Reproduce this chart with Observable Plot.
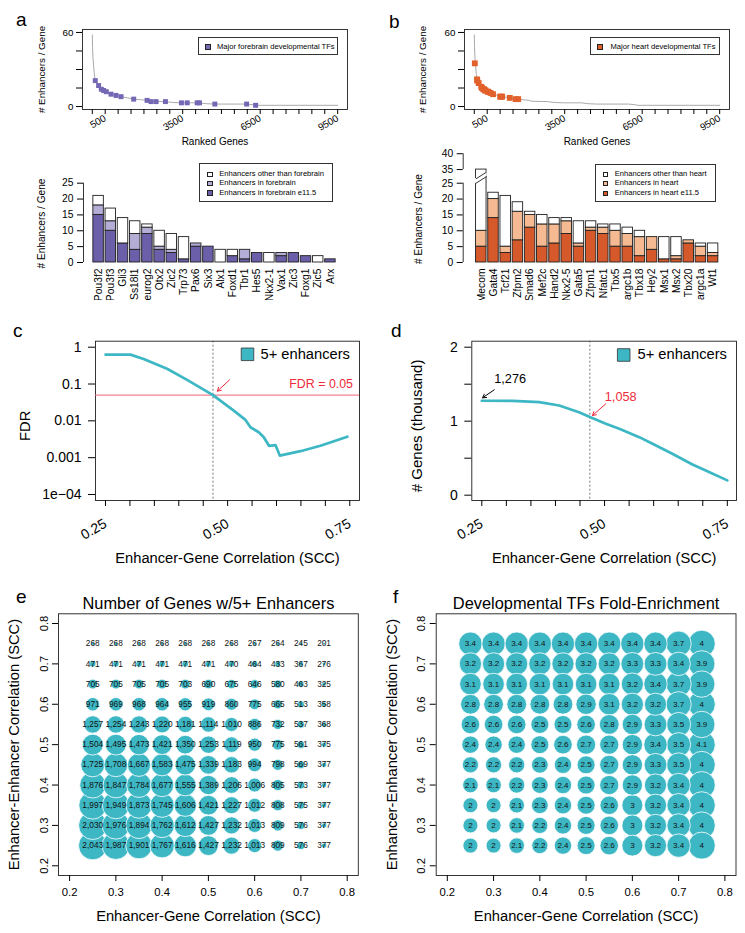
<!DOCTYPE html>
<html>
<head>
<meta charset="utf-8">
<script src="https://cdn.jsdelivr.net/npm/d3@7"></script>
<script src="https://cdn.jsdelivr.net/npm/@observablehq/plot@0.6"></script>
<style>
html,body{margin:0;padding:0;background:#fff;}
body{width:745px;height:933px;overflow:hidden;position:relative;font-family:"Liberation Sans",Arial,Helvetica,sans-serif;color:#000;}
.letter{position:absolute;font-size:19px;line-height:19px;}
.legend{position:absolute;border:1px solid #333;box-sizing:border-box;background:#fff;}
.legend .sq{position:absolute;width:5.5px;height:5.5px;border:0.8px solid #222;box-sizing:border-box;}
.legend .lt{position:absolute;font-size:7.6px;line-height:10px;white-space:nowrap;}
</style>
</head>
<body>
<script>
// ---------------- data ----------------
// ranked genes curve (panels a, b top)
const curveRank = [1, 10, 25, 50, 80, 116, 170, 244, 300, 349, 438, 543, 630, 725, 919, 1113, 1375, 1603, 1900, 2121, 2200, 2832, 3100, 3452, 4150, 4400, 4745, 5974, 6250, 6323, 9500];
const curveEnh  = [58, 48, 40, 33, 26, 21, 19, 17, 15, 14, 13, 12, 11, 10, 9, 8, 7, 6, 5.5, 5, 4.3, 4, 3.3, 3, 3, 2.3, 2, 2, 1.4, 1, 1];
const forebrainRank = [116, 244, 349, 438, 543, 725, 919, 1113, 1603, 2121, 2277, 2471, 2832, 3452, 3674, 4061, 4150, 4745, 5974, 6323];
const forebrainEnh  = [21, 17, 14, 13, 12, 10, 9, 8, 6, 5, 4, 4, 4, 3, 3, 3, 3, 2, 2, 1];
const heartRank = [20, 105, 116, 170, 270, 300, 349, 380, 420, 438, 520, 543, 630, 725, 1000, 1040, 1080, 1375, 1603, 1700];
const heartEnh  = [35, 22, 21, 19, 16, 15, 14, 14, 13, 13, 12, 12, 11, 10, 8, 8, 8, 7, 6, 6];
const rankTicks = d3.range(0, 9501, 500);
const rankTickLabels = [500, 3500, 6500, 9500];
const enhTicks = [0, 15, 30, 45, 60];
const enhTickLabels = [0, 60];

// stacked bars (panels a, b bottom)
const forebrainGenes = ["Pou3f2","Pou3f3","Gli3","Ss18l1","Neurog2","Otx2","Zic2","Trp73","Pax6","Six3","Alx1","Foxd1","Tbr1","Hes5","Nkx2-1","Vax1","Zic3","Foxg1","Zic5","Arx"];
const forebrainE115  = [15,10,6,4,9,4,3,1,5,5,0,2,1,3,0,2,3,2,0,1];
const forebrainIn    = [3,3,0,5,2,1,1,0,1,0,0,0,3,0,0,1,0,0,0,0];
const forebrainOther = [3,4,8,4,1,5,5,7,0,0,4,2,0,0,3,0,0,0,2,0];
const heartGenes = ["Mecom","Gata4","Tcf21","Zfpm2","Smad6","Mef2c","Hand2","Nkx2-5","Gata5","Zfpm1","Nfatc1","Tbx5","Ppargc1b","Tbx18","Hey2","Msx1","Msx2","Tbx20","Ppargc1a","Wt1"];
const heartE115  = [5,14,3,7,11,5,6,9,5,10,9,5,5,2,4,1,1,6,2,2];
const heartIn    = [5,6,2,9,4,7,6,4,1,1,2,5,4,6,4,0,1,1,3,1];
const heartOther = [25,2,16,3,1,3,2,1,7,2,1,2,2,2,0,7,6,0,1,3];
const forebrainBarTicks = [0,5,10,15,20,25];
const heartBarTicks = [0,5,10,15,20,25,35,40];
const heartBreakShift = 5.7;   // axis break: values above 25 are drawn shifted down

// panel c: FDR vs SCC
const fdrScc = [0.25, 0.301, 0.328, 0.376, 0.417, 0.47, 0.5125, 0.5365, 0.5467, 0.5637, 0.574, 0.5846, 0.5979, 0.6067, 0.649, 0.690, 0.745];
const fdrVal = [0.63, 0.63, 0.48, 0.26, 0.13, 0.05, 0.019, 0.0106, 0.0067, 0.0049, 0.0036, 0.0021, 0.0022, 0.00114, 0.0015, 0.0021, 0.0037];
const fdrTicks = [1, 0.1, 0.01, 0.001, 0.0001];
const fdrTickLabels = ["1", "0.1", "0.01", "0.001", "1e\u221204"];
const fdrThreshold = 0.05;
const sccCutoff = 0.47;
const fdrArrow = [{x1: 0.504, y1: 0.13, x2: 0.479, y2: 0.064}];

// panel d: number of genes vs SCC
const genesScc = [0.25, 0.3125, 0.367, 0.4076, 0.448, 0.47, 0.5026, 0.53, 0.5706, 0.5977, 0.638, 0.679, 0.706, 0.75];
const genesK   = [1.276, 1.275, 1.257, 1.212, 1.122, 1.058, 0.965, 0.897, 0.784, 0.694, 0.559, 0.415, 0.334, 0.2];
const genesTicks = [0, 0.5, 1, 1.5, 2];
const genesAnnot = [
  {label: "1,276", color: "#000", tx: 0.2753, ty: 1.57, x1: 0.2753, y1: 1.424, x2: 0.2515, y2: 1.316},
  {label: "1,058", color: "#ee2a3c", tx: 0.5005, ty: 1.327, x1: 0.5025, y1: 1.235, x2: 0.4754, y2: 1.077}
];
const sccTicksCD = [0.25,0.30,0.35,0.40,0.45,0.50,0.55,0.60,0.65,0.70,0.75];
const sccLabelsCD = [0.25, 0.5, 0.75];

// panels e, f: grids (rows: enhancer-enhancer SCC, cols: enhancer-gene SCC)
const egCols = [0.25,0.3,0.35,0.4,0.45,0.5,0.55,0.6,0.65,0.7,0.75];
const eeRows = [0.75,0.7,0.65,0.6,0.55,0.5,0.45,0.4,0.35,0.3,0.25];
const geneCounts = [
  [268,268,268,268,268,268,268,267,264,245,201],
  [471,471,471,471,471,471,470,464,433,367,276],
  [705,705,705,705,703,690,675,646,580,463,325],
  [971,969,968,964,955,919,860,775,665,513,358],
  [1257,1254,1243,1220,1181,1114,1010,886,732,537,368],
  [1504,1495,1473,1421,1350,1253,1119,950,775,561,375],
  [1725,1708,1667,1583,1475,1339,1183,994,798,569,377],
  [1876,1847,1784,1677,1555,1389,1206,1006,805,573,377],
  [1997,1949,1873,1745,1606,1421,1227,1012,808,575,377],
  [2030,1976,1894,1762,1612,1427,1232,1013,809,576,377],
  [2043,1987,1901,1767,1616,1427,1232,1013,809,576,377]
];
const foldEnrichment = [
  [3.4,3.4,3.4,3.4,3.4,3.4,3.4,3.4,3.4,3.7,4],
  [3.2,3.2,3.2,3.2,3.2,3.2,3.2,3.3,3.3,3.4,3.9],
  [3.1,3.1,3.1,3.1,3.1,3.1,3.1,3.2,3.4,3.7,3.9],
  [2.8,2.8,2.8,2.8,2.8,2.9,3.1,3.2,3.2,3.7,4],
  [2.6,2.6,2.6,2.5,2.5,2.6,2.8,2.9,3.3,3.5,3.9],
  [2.4,2.4,2.4,2.5,2.6,2.7,2.7,2.9,3.4,3.5,4.1],
  [2.2,2.2,2.2,2.3,2.4,2.5,2.7,2.9,3.3,3.5,4],
  [2.1,2.1,2.2,2.3,2.4,2.5,2.7,2.9,3.2,3.4,4],
  [2,2,2.1,2.3,2.4,2.5,2.6,3,3.2,3.4,4],
  [2,2,2.1,2.2,2.4,2.5,2.6,3,3.2,3.4,4],
  [2,2,2.1,2.2,2.4,2.5,2.6,3,3.2,3.4,4]
];
const sccTicksEF = [0.2,0.3,0.4,0.5,0.6,0.7,0.8];

// ---------------- styling ----------------
const FONT = '"Liberation Sans", Arial, Helvetica, sans-serif';
const TEAL = "#3db7c4";
const PURPLE = ["#6a5fa8", "#b4aed6", "#ffffff"];
const ORANGE = ["#d5592b", "#f5ba91", "#ffffff"];
const PURPLE_PT = "#7468b4";
const ORANGE_PT = "#e2602b";
const RED = "#ee2a3c";
const RED_LINE = "#f36277";
const INK = "#1f1f1f";

const st = fs => ({fontFamily: FONT, fontSize: fs + "px", background: "transparent", overflow: "hidden", color: "#000"});
function place(node, left, top) {
  node.style.position = "absolute";
  node.style.left = left + "px";
  node.style.top = top + "px";
  document.body.appendChild(node);
}
function letter(ch, left, baseline) {
  const d = document.createElement("div");
  d.className = "letter"; d.textContent = ch;
  d.style.left = left + "px"; d.style.top = (baseline - 16.1) + "px";
  document.body.appendChild(d);
}
function legendBox(left, top, w, h, items) {
  const box = document.createElement("div");
  box.className = "legend";
  Object.assign(box.style, {left: left + "px", top: top + "px", width: w + "px", height: h + "px"});
  items.forEach(it => {
    const sq = document.createElement("span");
    sq.className = "sq";
    sq.style.left = it.sx + "px"; sq.style.top = (it.cy - 2.75) + "px"; sq.style.background = it.color;
    const tx = document.createElement("span");
    tx.className = "lt";
    tx.style.left = it.tx + "px"; tx.style.top = (it.cy - 5.3) + "px";
    tx.textContent = it.label;
    box.appendChild(sq); box.appendChild(tx);
  });
  document.body.appendChild(box);
}
// axis-title helpers (explicit anchors so frameAnchor does not shift them)
const yTitle = (label, dx, dy, fs) => Plot.text([label], {text: d => d, frameAnchor: "left", rotate: -90, textAnchor: "middle", lineAnchor: "middle", dx, dy, fontSize: fs});
const xTitle = (label, anchor, dy, fs) => Plot.text([label], {text: d => d, frameAnchor: anchor, textAnchor: "middle", lineAnchor: "middle", dy, fontSize: fs});

// ---------------- panels a/b top: ranked genes ----------------
const curve = curveRank.map((r, i) => ({rank: r, enh: curveEnh[i]}));
function rankedPanel(pts, color, o) {
  return Plot.plot({
    width: o.width, height: 150, marginLeft: o.ml, marginRight: o.mr, marginTop: 29, marginBottom: 41,
    style: st(9.8),
    x: {domain: [-379, 9880], label: null},
    y: {domain: [-2.4, 62.4], label: null},
    marks: [
      Plot.frame({stroke: INK, strokeWidth: 0.9}),
      Plot.line(curve, {x: "rank", y: "enh", stroke: "#a9a9a9", strokeWidth: 1}),
      Plot.dot(pts, {x: "rank", y: "enh", symbol: "square", r: o.r, fill: color}),
      Plot.axisY({ticks: enhTicks, tickFormat: d => enhTickLabels.includes(d) ? String(d) : "", tickSize: 6, tickPadding: 3, fontSize: 9.8, label: null}),
      Plot.axisX({ticks: rankTicks, tickFormat: d => rankTickLabels.includes(d) ? String(d) : "", tickRotate: -30, tickSize: 5, tickPadding: 3, fontSize: 9.8, label: null}),
      xTitle("Ranked Genes", "bottom", 32, 10),
      yTitle("# Enhancers / Gene", o.ylab, 0, 9.8)
    ]
  });
}
place(rankedPanel(forebrainRank.map((r, i) => ({rank: r, enh: forebrainEnh[i]})), PURPLE_PT, {width: 372, ml: 82, mr: 25, r: 2.8, ylab: -41}), 0, 0);
place(rankedPanel(heartRank.map((r, i) => ({rank: r, enh: heartEnh[i]})), ORANGE_PT, {width: 373, ml: 92, mr: 16, r: 3.3, ylab: -42}), 372, 0);

// ---------------- panels a/b bottom: stacked bars ----------------
function barPanel(c) {
  const segs = [];
  c.genes.forEach((g, i) => {
    const a = c.dark[i], b = c.light[i], w = c.white[i];
    [[0, a, c.colors[0]], [a, a + b, c.colors[1]], [a + b, a + b + w, c.colors[2]]].forEach(([y1, y2, fill]) => {
      if (y2 > y1) segs.push({i, y1: c.disp(y1), y2: c.disp(y2), fill});
    });
  });
  const step = (c.width - c.mr - c.barStart) / c.genes.length;
  const xDomain = [-0.5 - (c.barStart - c.ml) / step, c.genes.length - 0.5];
  const tickMap = new Map(c.ticks.map(t => [c.disp(t), String(t)]));
  return Plot.plot({
    width: c.width, height: c.height, marginLeft: c.ml, marginRight: c.mr, marginTop: c.mt, marginBottom: 38,
    style: st(10.3),
    x: {domain: xDomain, label: null, axis: null},
    y: {domain: c.yDomain, label: null},
    marks: [
      Plot.rectY(segs, {x1: d => d.i - 0.43, x2: d => d.i + 0.43, y1: "y1", y2: "y2", fill: "fill", stroke: INK, strokeWidth: 0.9}),
      ...(c.extra || []),
      Plot.ruleX(c.axisSegments, {x: () => xDomain[0], y1: "y1", y2: "y2", stroke: INK, strokeWidth: 0.9}),
      Plot.axisY({ticks: c.ticks.map(c.disp), tickFormat: d => tickMap.get(d), tickSize: 6, tickPadding: 4, fontSize: 10.3, label: null}),
      Plot.text(c.genes.map((g, i) => ({g, i})), {x: "i", y: () => 0, text: "g", rotate: -90, textAnchor: "end", lineAnchor: "middle", dy: 6, fontSize: 10.3}),
      yTitle("# Enhancers / Gene", c.ylab, c.ylabDy, 10.1)
    ]
  });
}
const ident = v => v;
place(barPanel({
  genes: forebrainGenes, dark: forebrainE115, light: forebrainIn, white: forebrainOther, colors: PURPLE,
  disp: ident, ticks: forebrainBarTicks, yDomain: [0, 29], width: 372, height: 150, ml: 83, mr: 36, mt: 20, barStart: 92,
  axisSegments: [{y1: 0, y2: 25}], ylab: -42, ylabDy: 7
}), 0, 150);

const heartDisp = v => v > 25 ? v - heartBreakShift : v;
place(barPanel({
  genes: heartGenes, dark: heartE115, light: heartIn, white: heartOther, colors: ORANGE,
  disp: heartDisp, ticks: heartBarTicks, yDomain: [0, 35], width: 373, height: 160, ml: 90.7, mr: 26.3, mt: 11, barStart: 102.7,
  axisSegments: [{y1: 0, y2: 25}, {y1: heartDisp(35), y2: heartDisp(40)}], ylab: -44, ylabDy: 12,
  extra: [
    Plot.areaY([{x: -0.48, lo: 24.85, hi: 26.3}, {x: 0.48, lo: 27.2, hi: 28.65}], {x: "x", y1: "lo", y2: "hi", fill: "#fff"}),
    Plot.link([{x1: -0.43, y1: 25.0, x2: 0.43, y2: 27.1}, {x1: -0.43, y1: 26.4, x2: 0.43, y2: 28.5}], {x1: "x1", y1: "y1", x2: "x2", y2: "y2", stroke: INK, strokeWidth: 0.9})
  ]
}), 372, 140);

// ---------------- panel c ----------------
const fdrData = fdrScc.map((x, i) => ({x, y: fdrVal[i]}));
const sccAxisCD = () => Plot.axisX({ticks: sccTicksCD, tickFormat: d => sccLabelsCD.some(v => Math.abs(v - d) < 1e-9) ? d.toFixed(2) : "", tickRotate: -30, tickSize: 6, tickPadding: 16, fontSize: 14, label: null});
place(Plot.plot({
  width: 372, height: 270, marginLeft: 95, marginRight: 13, marginTop: 40.7, marginBottom: 70,
  style: st(14),
  x: {domain: [0.2295, 0.7699], label: null},
  y: {type: "log", domain: [6.87e-5, 1.456], label: null},
  marks: [
    Plot.frame({stroke: INK, strokeWidth: 0.9}),
    Plot.ruleY([fdrThreshold], {stroke: RED_LINE, strokeWidth: 1}),
    Plot.ruleX([sccCutoff], {stroke: "#555", strokeWidth: 0.8, strokeDasharray: "2,2"}),
    Plot.line(fdrData, {x: "x", y: "y", stroke: TEAL, strokeWidth: 2.7}),
    Plot.arrow(fdrArrow, {x1: "x1", y1: "y1", x2: "x2", y2: "y2", stroke: RED, strokeWidth: 1, headLength: 6}),
    Plot.text([fdrThreshold], {y: d => d, text: () => "FDR = 0.05", frameAnchor: "right", textAnchor: "end", lineAnchor: "middle", dx: -6.5, dy: -11, fill: RED, fontSize: 12.4}),
    Plot.dot([0], {frameAnchor: "top-right", dx: -112, dy: 13.1, symbol: "square", r: 7.1, fill: TEAL, stroke: "#333", strokeWidth: 0.8}),
    Plot.text(["5+ enhancers"], {text: d => d, frameAnchor: "top-right", dx: -99, dy: 12.8, textAnchor: "start", lineAnchor: "middle", fontSize: 14.7}),
    Plot.axisY({ticks: fdrTicks, tickFormat: (d) => fdrTickLabels[fdrTicks.indexOf(d)], tickSize: 7, tickPadding: 7, fontSize: 14, label: null}),
    sccAxisCD(),
    xTitle("Enhancer-Gene Correlation (SCC)", "bottom", 58, 14.7),
    yTitle("FDR", -70, 5, 14.7)
  ]
}), 0, 300);

// ---------------- panel d ----------------
const genesData = genesScc.map((x, i) => ({x, y: genesK[i]}));
place(Plot.plot({
  width: 373, height: 270, marginLeft: 99.3, marginRight: 9, marginTop: 40.7, marginBottom: 70,
  style: st(14),
  x: {domain: [0.2296, 0.7687], label: null},
  y: {domain: [-0.072, 2.081], label: null},
  marks: [
    Plot.frame({stroke: INK, strokeWidth: 0.9}),
    Plot.ruleX([sccCutoff], {stroke: "#555", strokeWidth: 0.8, strokeDasharray: "2,2"}),
    Plot.line(genesData, {x: "x", y: "y", stroke: TEAL, strokeWidth: 2.7}),
    Plot.arrow(genesAnnot, {x1: "x1", y1: "y1", x2: "x2", y2: "y2", stroke: "color", strokeWidth: 1, headLength: 6}),
    Plot.text(genesAnnot, {x: "tx", y: "ty", text: "label", fill: "color", textAnchor: "start", lineAnchor: "middle", fontSize: 12.7}),
    Plot.dot([0], {frameAnchor: "top-right", dx: -112.8, dy: 13.8, symbol: "square", r: 7.1, fill: TEAL, stroke: "#333", strokeWidth: 0.8}),
    Plot.text(["5+ enhancers"], {text: d => d, frameAnchor: "top-right", dx: -99, dy: 12.8, textAnchor: "start", lineAnchor: "middle", fontSize: 14.7}),
    Plot.axisY({ticks: genesTicks, tickFormat: d => Number.isInteger(d) ? String(d) : "", tickSize: 7, tickPadding: 7, fontSize: 14, label: null}),
    sccAxisCD(),
    xTitle("Enhancer-Gene Correlation (SCC)", "bottom", 58, 14.7),
    yTitle("# Genes (thousand)", -55, 5, 15)
  ]
}), 372, 300);

// ---------------- panels e, f ----------------
function bubblePanel(c) {
  const cells = [];
  eeRows.forEach((ee, r) => egCols.forEach((eg, k) => cells.push({x: eg, y: ee, v: c.values[r][k]})));
  return Plot.plot({
    width: c.width, height: 363, marginLeft: c.ml, marginRight: c.mr, marginTop: 43.3, marginBottom: 58,
    style: st(11.3),
    x: {domain: [0.176, 0.824], label: null},
    y: {domain: [0.176, 0.824], label: null},
    r: {type: "linear", domain: c.rDomain, range: c.rRange, clamp: true},
    marks: [
      Plot.frame({stroke: INK, strokeWidth: 0.9}),
      Plot.dot(cells, {x: "x", y: "y", r: "v", fill: TEAL, stroke: "#fff", strokeWidth: 0.8}),
      Plot.text(cells, {x: "x", y: "y", text: d => c.fmt(d.v), fontSize: c.fs, fill: "#111"}),
      Plot.axisX({ticks: sccTicksEF, tickFormat: d => d.toFixed(1), tickSize: 6, tickPadding: 6, fontSize: 11.3, label: null}),
      Plot.axisY({ticks: sccTicksEF, tickFormat: d => d.toFixed(1), tickRotate: -90, tickSize: 6, tickPadding: 5, fontSize: 11.3, label: null}),
      xTitle(c.title, "top", -10.5, 16.4),
      xTitle("Enhancer-Gene Correlation (SCC)", "bottom", 41, 14.7),
      yTitle("Enhancer-Enhancer Correlation (SCC)", -44, 0, 14.7)
    ]
  });
}
place(bubblePanel({values: geneCounts, width: 372, ml: 58, mr: 14.2, rDomain: [0, 2043], rRange: [0, 14.2], fmt: d3.format(","), fs: 8.3, title: "Number of Genes w/5+ Enhancers"}), 0, 570);
place(bubblePanel({values: foldEnrichment, width: 373, ml: 63.7, mr: 9.5, rDomain: [-0.5, 4], rRange: [0, 13.5], fmt: v => String(v), fs: 8, title: "Developmental TFs Fold-Enrichment"}), 372, 570);

// ---------------- legends & letters ----------------
legendBox(198, 37, 140, 18, [{sx: 6, cy: 9, tx: 18, color: PURPLE_PT, label: "Major forebrain developmental TFs"}]);
legendBox(590, 37, 130, 18, [{sx: 6, cy: 9, tx: 19.5, color: ORANGE_PT, label: "Major heart developmental TFs"}]);
legendBox(199, 163, 134, 39, [
  {sx: 7, cy: 10.3, tx: 19.3, color: PURPLE[2], label: "Enhancers other than forebrain"},
  {sx: 7, cy: 19.7, tx: 19.3, color: PURPLE[1], label: "Enhancers in forebrain"},
  {sx: 7, cy: 29, tx: 19.3, color: PURPLE[0], label: "Enhancers in forebrain e11.5"}
]);
legendBox(594.7, 164, 121.3, 38.3, [
  {sx: 7.3, cy: 9.3, tx: 19, color: ORANGE[2], label: "Enhancers other than heart"},
  {sx: 7.3, cy: 18.7, tx: 19, color: ORANGE[1], label: "Enhancers in heart"},
  {sx: 7.3, cy: 28.3, tx: 19, color: ORANGE[0], label: "Enhancers in heart e11.5"}
]);
letter("a", 16, 26);
letter("b", 389, 28.5);
letter("c", 13, 337);
letter("d", 391, 337);
letter("e", 16, 603);
letter("f", 393, 603);
</script>
</body>
</html>
